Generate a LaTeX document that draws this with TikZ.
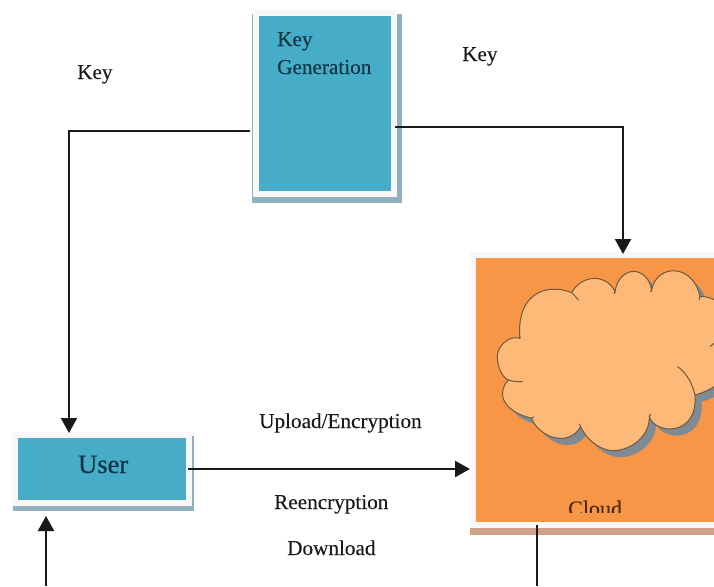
\documentclass[tikz,border=0pt]{standalone}
\usepackage{fontspec}
\setmainfont[FakeBold=0.15]{Liberation Serif}
\usetikzlibrary{arrows.meta,calc}
\definecolor{teal}{HTML}{46ACC8}
\definecolor{orangebox}{HTML}{F79646}
\definecolor{cloudfill}{HTML}{FDB978}
\definecolor{cloudline}{HTML}{6E5A3C}
\definecolor{cloudshadow}{HTML}{7F8A94}
\definecolor{edgewhite}{HTML}{F8F8F8}
\definecolor{tealshadow}{HTML}{8FB0BC}
\definecolor{tanshadow}{HTML}{CFA288}
\definecolor{tealtext}{HTML}{0C3442}
\definecolor{browntext}{HTML}{4A2A10}
\tikzset{
  box/.style={rectangle,draw=edgewhite,line width=6pt,inner sep=0pt},
  bluebox/.style={box,fill=teal},
  label/.style={anchor=base west,inner sep=0pt,font=\fontsize{21.2}{21.2}\selectfont,text=black!90},
  boxlabel/.style={label,text=tealtext},
  link/.style={draw=black!90,line width=2.2pt},
  arrowlink/.style={link,-{Triangle[width=16pt,length=15pt]}},
  cloudedge/.style={draw=cloudline,line width=1pt}
}
\def\cloudpath{(180,295) .. controls (150,285) and (112,315) .. (112,350)
  .. controls (112,385) and (130,415) .. (145,420)
  .. controls (115,450) and (115,510) .. (215,535)
  .. controls (235,590) and (325,625) .. (362,560)
  .. controls (385,610) and (430,632) .. (460,632)
  .. controls (510,632) and (570,590) .. (568,530)
  .. controls (585,585) and (715,590) .. (705,465)
  .. controls (760,450) and (800,420) .. (810,380)
  -- (810,200)
  .. controls (790,190) and (740,165) .. (720,170)
  .. controls (700,70) and (590,70) .. (575,150)
  .. controls (562,75) and (478,75) .. (465,155)
  .. controls (440,100) and (365,103) .. (335,158)
  .. controls (310,148) and (295,148) .. (280,148)
  .. controls (225,148) and (170,190) .. (180,295) -- cycle}
\begin{document}
\begin{tikzpicture}[x=1pt,y=-1pt]
\useasboundingbox (0,0) rectangle (714,586);
% box shadows
\fill[tealshadow] (252,14) rectangle (402,203);
\fill[tealshadow] (13,436) rectangle (194,511);
\fill[tanshadow] (470,528) rectangle (760,535);
% boxes
\node[bluebox,minimum width=138pt,minimum height=181pt] (key) at (325,103.5) {};
\node[bluebox,minimum width=174pt,minimum height=68pt] (user) at (102,469) {};
\node[box,fill=orangebox,minimum width=284pt,minimum height=270pt] (cloud) at (615,390) {};
% cloud shape
\begin{scope}[shift={(460,240)},x=0.3333pt,y=-0.3333pt]
  \fill[cloudshadow,shift={(20,20)}] \cloudpath;
  \filldraw[fill=cloudfill,cloudedge] \cloudpath;
  \draw[cloudedge] (145,420) .. controls (160,425) and (175,425) .. (188,425);
  \draw[cloudedge] (335,158) .. controls (342,165) and (350,172) .. (355,180);
  \draw[cloudedge] (705,465) .. controls (695,420) and (670,390) .. (652,380);
  \draw[cloudedge] (180,295) -- (178,285);
  \draw[cloudedge] (215,535) -- (222,530);
  \draw[cloudedge] (362,560) -- (358,552);
  \draw[cloudedge] (568,530) -- (572,522);
  \draw[cloudedge] (465,155) -- (462,162);
  \draw[cloudedge] (575,150) -- (572,156);
  \draw[cloudedge] (720,170) -- (717,180);
  \draw[cloudedge] (750,320) -- (762,310);
\end{scope}
% box texts
\node[boxlabel] (keytextA) at (277,46) {Key};
\node[boxlabel] (keytextB) at (277,74) {Generation};
\node[boxlabel,font=\fontsize{26.5}{26.5}\selectfont] (usertext) at (78,473) {User};
\begin{scope}
  \clip (540,495) rectangle (650,512.5);
  \node[label,font=\fontsize{22}{22}\selectfont,text=browntext] (cloudtext) at (568,516) {Cloud};
\end{scope}
% free labels
\node[label] (keyleft) at (77,79) {Key};
\node[label] (keyright) at (462,61) {Key};
\node[label] (upload) at (259,428) {Upload/Encryption};
\node[label] (reenc) at (274,509) {Reencryption};
\node[label] (download) at (287,555) {Download};
% connectors
\coordinate (keyLout) at ([xshift=-3pt,yshift=-27.5pt]key.west);
\coordinate (userIn) at ([xshift=-33pt,yshift=-1pt]user.north);
\coordinate (keyRout) at ([xshift=-2pt,yshift=-23.5pt]key.east);
\coordinate (cloudTop) at (623,254);
\coordinate (userOut) at ([xshift=-4pt]user.east);
\coordinate (bottomL) at (46,586);
\coordinate (userUnder) at (46,516);
\coordinate (cloudOut) at (537,525);
\coordinate (bottomR) at (537,586);
\draw[arrowlink] (keyLout) -| (userIn);
\draw[arrowlink] (keyRout) -| (cloudTop);
\draw[arrowlink] (userOut) -- (cloud.west |- userOut);
\draw[arrowlink] (bottomL) -- (userUnder);
\draw[link] (cloudOut) -- (bottomR);
\end{tikzpicture}
\end{document}
